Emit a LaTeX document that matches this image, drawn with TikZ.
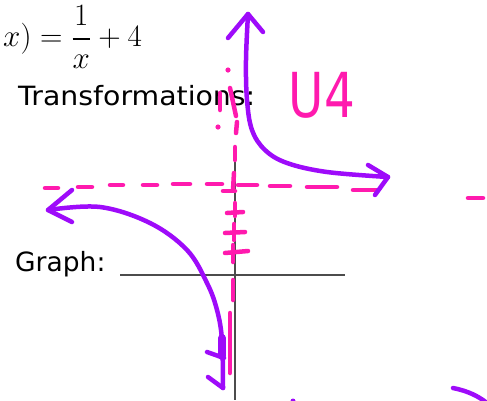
\documentclass[tikz,border=0pt]{standalone}
\usepackage{fontspec}
\usepackage{amsmath}
\usepackage{graphicx}
\newfontfamily\handfont{DejaVu Sans}
\definecolor{pinkm}{HTML}{FF1AAE}
\definecolor{purp}{HTML}{9E0BFA}
\begin{document}
\begin{tikzpicture}[x=1pt,y=-1pt,
  pinkline/.style={draw=pinkm,line width=4.5pt,line cap=round},
  purpline/.style={draw=purp,line width=4.5pt,line cap=round,line join=round},
  axisline/.style={draw=black!70,line width=1.2pt},
  lbl/.style={inner sep=0pt,anchor=base west,text=black}]
\useasboundingbox (0,0) rectangle (487,400);
% printed text
\node[inner sep=0pt,anchor=west] (eq) at (3,37) {\scalebox{1.25}{\fontsize{24.88}{28}\selectfont $x) = \dfrac{1}{x} + 4$}};
\node[lbl] (tr) at (18,105) {\handfont\fontsize{26.5}{30}\selectfont\scalebox{1.07}[1]{Transformations:}};
\node[lbl] (gr) at (15,271) {\handfont\fontsize{26.5}{30}\selectfont Graph:};
% black axes
\draw[axisline] (120,275) coordinate (ua) -- (345,275) coordinate (ub);
\draw[axisline] (235,162) coordinate (va) -- (235,400) coordinate (vb);
% pink vertical asymptote marks
\fill[pinkm] (228,70) circle (2.6pt);
\fill[pinkm] (218,127) circle (2.6pt);
\draw[pinkline] (220,93) -- (220,110);
\draw[pinkline] (230,88) -- (236,116);
\draw[pinkline] (237,122) -- (236,133);
\draw[pinkline] (235,147) -- (235,160);
\draw[pinkline] (234,173) -- (233,190);
\draw[pinkline] (235,203) -- (235,216);
\draw[pinkline] (234,224) -- (234,240);
\draw[pinkline] (233,245) -- (233,262);
\draw[pinkline] (227,213) -- (243,212);
\draw[pinkline] (225,233) -- (245,232);
\draw[pinkline] (225,253) -- (248,251);
\draw[pinkline] (233,280) -- (233,300);
\draw[pinkline] (230,313) -- (230,373);
% pink horizontal asymptote
\foreach \xa/\xb/\yy in {45/58/188, 78/92/187, 110/123/185, 143/157/185, 173/190/184, 207/222/184, 223/235/191, 238/257/185, 270/290/186, 307/337/187, 353/377/190, 468/483/198}
  \draw[pinkline] (\xa,\yy) -- (\xb,\yy);
% U4
\node[inner sep=0pt,anchor=center,text=pinkm] (u4) at (322,95) {\handfont\fontsize{62}{64}\selectfont\scalebox{0.78}[1]{U4}};
% purple upper branch
\draw[purpline] plot[smooth,tension=0.6] coordinates {(248,14) (246,60) (247,100) (252,130) (265,150) (287,163) (327,172) (388,177)};
\draw[purpline] (228,38) -- (248,14) -- (263,32);
\draw[purpline] (368,165) -- (388,177) -- (375,195);
% purple lower branch
\draw[purpline] plot[smooth,tension=0.6] coordinates {(48,210) (100,207) (150,223) (187,250) (207,283) (217,310) (222,340) (223,388)};
\draw[purpline] (72,190) -- (48,210) -- (72,222);
\draw[purpline] (208,377) -- (223,388);
\draw[purpline] (207,352) -- (224,358);
\draw[purp,line width=8pt,line cap=round] (222,338) -- (222,356);
% bottom fragments
\draw[purpline] (453,388) .. controls (468,391) and (478,396) .. (487,403);
\fill[purp] (293,401) circle (2.5pt);
\end{tikzpicture}
\end{document}
